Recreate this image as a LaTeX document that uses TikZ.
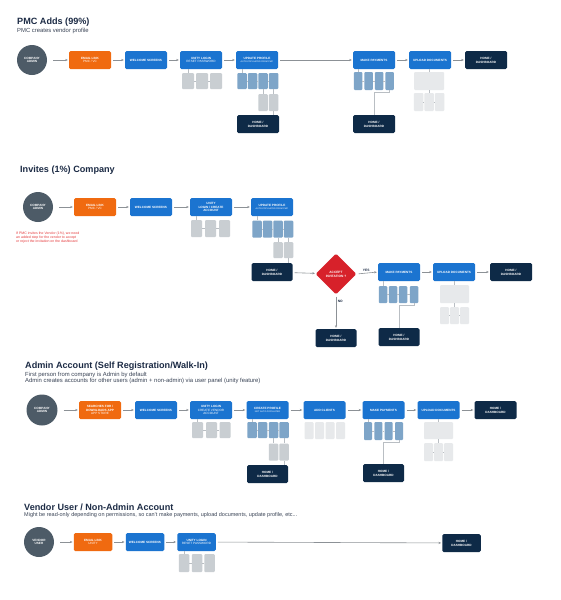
\documentclass[tikz,border=0pt]{standalone}
\usepackage{fontspec}
\setmainfont{Liberation Sans}
\usetikzlibrary{arrows.meta,shapes.geometric}
\definecolor{orng}{HTML}{F06A10}
\definecolor{blu}{HTML}{1B74D0}
\definecolor{navy}{HTML}{0E2A47}
\definecolor{slate}{HTML}{4D5B67}
\definecolor{lblu}{HTML}{7EA5C8}
\definecolor{gry}{HTML}{C9CED2}
\definecolor{lgry}{HTML}{E7E9EB}
\definecolor{rdd}{HTML}{D7212A}
\definecolor{ttl}{HTML}{1C2B45}
\definecolor{subt}{HTML}{3A4456}
\definecolor{conn}{HTML}{8C9196}
\definecolor{lnk}{HTML}{B9BEC3}
\definecolor{redtxt}{HTML}{E5393B}
\tikzset{
  box/.style={rounded corners=1.5pt, minimum width=42pt, minimum height=18pt, inner sep=0.5pt, align=center,
    font=\fontsize{3.1}{3.8}\selectfont\bfseries, text=white},
  sbox/.style={box, minimum width=38.5pt},
  orangebox/.style={box, fill=orng},
  bluebox/.style={box, fill=blu},
  navybox/.style={box, fill=navy},
  circ/.style={circle, fill=slate, minimum size=30pt, inner sep=0pt, align=center,
    font=\fontsize{3.1}{3.8}\selectfont\bfseries, text=white},
  subb/.style={rounded corners=1pt, minimum width=9.5pt, minimum height=16pt, inner sep=0pt},
  subblue/.style={subb, fill=lblu},
  subgray/.style={subb, fill=gry},
  sublgray/.style={subb, fill=lgry},
  arr/.style={-{Stealth[length=2.6pt,width=2.2pt]}, draw=conn, line width=0.6pt, shorten <=2pt, shorten >=1pt},
  carr/.style={arr, shorten <=6pt},
  link/.style={draw=lnk, line width=0.4pt},
  title/.style={anchor=west, inner sep=0pt, font=\fontsize{9.1}{11}\selectfont\bfseries, text=ttl},
  subtitle/.style={anchor=west, inner sep=0pt, font=\fontsize{5.9}{6.9}\selectfont, text=subt},
  lbl/.style={inner sep=0pt, font=\fontsize{3.3}{4}\selectfont\bfseries, text=ttl},
}
\newcommand{\sm}[1]{{\fontsize{2.2}{2.9}\selectfont\mdseries #1}}
\newcommand{\md}[1]{{\mdseries #1}}
\begin{document}
\begin{tikzpicture}[x=1pt,y=-1pt]
\useasboundingbox (0,0) rectangle (561,600);
\fill[white] (0,0) rectangle (561,600);

% ================= Section 1 =================
\node[title] (t1) at (17,22) {PMC Adds (99\%)};
\node[subtitle] (st1) at (17,30.5) {PMC creates vendor profile};

\node[circ] (a1) at (32,60) {COMPANY\\ADMIN};
\node[orangebox] (e1) at (90,60) {EMAIL LINK\\\md{PMC / VC}};
\node[bluebox] (w1) at (146,60) {WELCOME SCREENS};
\node[bluebox] (l1) at (201,60) {UNITY LOGIN\\\md{RESET PASSWORD}};
\node[bluebox] (u1) at (257,60) {UPDATE PROFILE\\\sm{AUTO-POPULATED FROM PMC}};
\node[bluebox] (p1) at (374,60) {MAKE PAYMENTS};
\node[bluebox] (d1) at (430,60) {UPLOAD DOCUMENTS};
\node[navybox] (h1) at (486,60) {HOME /\\DASHBOARD};
\draw[carr] (a1) -- (e1);
\draw[arr] (e1) -- (w1);
\draw[arr] (w1) -- (l1);
\draw[arr] (l1) -- (u1);
\draw[arr] (u1) -- (p1);
\draw[arr] (p1) -- (d1);
\draw[arr] (d1) -- (h1);

\foreach \x [count=\i] in {188,202,216} \node[subgray, minimum width=12pt] (s1l\i) at (\x,81) {};
\draw[link] (s1l1.north) -- (s1l1.north |- l1.south);
\foreach \i/\j in {1/2,2/3} \draw[link] (s1l\i) -- (s1l\j);

\foreach \x [count=\i] in {242,252.5,263,273.5} \node[subblue] (s1u\i) at (\x,81) {};
\foreach \x [count=\i from 3] in {263,273.5} \node[subgray, minimum height=17pt] (s1g\i) at (\x,102.5) {};
\node[navybox] (h1b) at (258,124) {HOME /\\DASHBOARD};
\draw[link] (s1u1.north) -- (s1u1.north |- u1.south);
\foreach \i/\j in {1/2,2/3,3/4} \draw[link] (s1u\i) -- (s1u\j);
\draw[link] (s1u3) -- (s1g3);
\draw[link] (s1u4) -- (s1g4);
\draw[link] (s1g4.south) -- (s1g4.south |- h1b.north);

\foreach \x [count=\i] in {358,368.5,379,389.5} \node[subblue, minimum width=8.5pt, minimum height=18pt] (s1p\i) at (\x,81) {};
\node[navybox] (h1c) at (374,124) {HOME /\\DASHBOARD};
\draw[link] (s1p1.north) -- (s1p1.north |- p1.south);
\foreach \i/\j in {1/2,2/3,3/4} \draw[link] (s1p\i) -- (s1p\j);
\draw[link] (s1p4.south) -- ++(0,2) -| (h1c.north);

\node[sublgray, minimum width=30pt, minimum height=18pt] (s1dbig) at (429,81) {};
\foreach \x [count=\i] in {418.5,429,439.5} \node[sublgray, minimum height=18pt] (s1d\i) at (\x,102) {};
\draw[link] (d1.south -| s1dbig.north) -- (s1dbig.north);
\draw[link] (s1dbig.south) -- (s1d2.north);
\foreach \i/\j in {1/2,2/3} \draw[link] (s1d\i) -- (s1d\j);

% ================= Section 2 =================
\node[title] (t2) at (20,170) {Invites (1\%) Company};

\node[circ] (a2) at (38,207) {COMPANY\\ADMIN};
\node[orangebox] (e2) at (95,207) {EMAIL LINK\\\md{PMC / VC}};
\node[bluebox] (w2) at (151,207) {WELCOME SCREENS};
\node[bluebox] (l2) at (211,207) {UNITY\\LOGIN / CREATE\\ACCOUNT};
\node[bluebox] (u2) at (272,207) {UPDATE PROFILE\\\sm{AUTO-POPULATED FROM PMC}};
\draw[carr] (a2) -- (e2);
\draw[arr] (e2) -- (w2);
\draw[arr] (w2) -- (l2);
\draw[arr] (l2) -- (u2);

\node[anchor=north west, inner sep=0pt, align=left, text=redtxt, font=\fontsize{3.5}{4.3}\selectfont] (note) at (16,231.5)
  {If PMC invites the Vendor (1\%), we need\\an added step for the vendor to accept\\or reject the invitation on the dashboard};

\foreach \x [count=\i] in {196.5,210.5,224.5} \node[subgray, minimum width=11pt, minimum height=17pt] (s2l\i) at (\x,228.5) {};
\draw[link] (s2l1.north) -- (s2l1.north |- l2.south);
\foreach \i/\j in {1/2,2/3} \draw[link] (s2l\i) -- (s2l\j);

\foreach \x [count=\i] in {257,267.5,278,288.5} \node[subblue, minimum height=17pt] (s2u\i) at (\x,229) {};
\foreach \x [count=\i from 3] in {278,288.5} \node[subgray] (s2g\i) at (\x,250) {};
\node[navybox, minimum width=41pt] (h2a) at (272,272) {HOME /\\DASHBOARD};
\draw[link] (s2u1.north) -- (s2u1.north |- u2.south);
\foreach \i/\j in {1/2,2/3,3/4} \draw[link] (s2u\i) -- (s2u\j);
\draw[link] (s2u3) -- (s2g3);
\draw[link] (s2u4) -- (s2g4);
\draw[link] (s2g4.south) -- (s2g4.south |- h2a.north);

\node[diamond, fill=rdd, minimum width=41pt, minimum height=41pt, inner sep=0pt, align=center,
  rounded corners=1.5pt, text=white, font=\fontsize{3.2}{3.9}\selectfont\bfseries] (q2) at (336,274) {ACCEPT\\INVITATION ?};
\draw[arr] (h2a) -- (q2);
\node[bluebox] (p2) at (399,272) {MAKE PAYMENTS};
\node[bluebox] (d2) at (454,272) {UPLOAD DOCUMENTS};
\node[navybox] (h2b) at (511,272) {HOME /\\DASHBOARD};
\node[navybox, minimum width=41pt] (h2n) at (336,338) {HOME /\\DASHBOARD};
\draw[arr] (q2.east) -- (p2.west) node[lbl, pos=0.45, above=1.5pt] (yes) {YES};
\draw[arr] (p2) -- (d2);
\draw[arr] (d2) -- (h2b);
\draw[arr] (q2.south) -- (h2n.north) node[lbl, pos=0.2, right=1.5pt] (no) {NO};

\foreach \x [count=\i] in {383,393,403,414} \node[subblue, minimum width=8.5pt, minimum height=17pt] (s2p\i) at (\x,294.5) {};
\node[navybox, minimum width=41pt] (h2c) at (399,337) {HOME /\\DASHBOARD};
\draw[link] (s2p1.north) -- (s2p1.north |- p2.south);
\foreach \i/\j in {1/2,2/3,3/4} \draw[link] (s2p\i) -- (s2p\j);
\draw[link] (s2p4.south) -- ++(0,2) -| (h2c.north);

\node[sublgray, minimum width=29pt, minimum height=18pt] (s2dbig) at (454.5,294) {};
\foreach \x [count=\i] in {444.5,454.5,464.5} \node[sublgray, minimum width=9pt, minimum height=17pt] (s2d\i) at (\x,315.5) {};
\draw[link] (d2.south -| s2dbig.north) -- (s2dbig.north);
\draw[link] (s2dbig.south) -- (s2d2.north);
\foreach \i/\j in {1/2,2/3} \draw[link] (s2d\i) -- (s2d\j);

% ================= Section 3 =================
\node[title] (t3) at (25,366) {Admin Account (Self Registration/Walk-In)};
\node[subtitle] (st3a) at (25,374.5) {First person from company is Admin by default};
\node[subtitle] (st3b) at (25,381) {Admin creates accounts for other users (admin + non-admin) via user panel (unity feature)};

\node[circ, minimum size=31pt] (a3) at (42,410) {COMPANY\\ADMIN};
\node[orangebox] (e3) at (100,410) {SEARCHES FOR /\\DOWNLOADS APP\\\md{APP STORE}};
\node[bluebox] (w3) at (156,410) {WELCOME SCREENS};
\node[bluebox] (l3) at (211,410) {UNITY LOGIN\\\md{CREATE VENDOR}\\\md{ACCOUNT}};
\node[bluebox] (c3) at (267.5,410) {CREATE PROFILE\\\sm{NOT AUTO-POPULATED}};
\node[bluebox] (k3) at (324.5,410) {ADD CLIENTS};
\node[bluebox] (p3) at (383.5,410) {MAKE PAYMENTS};
\node[bluebox] (d3) at (438.5,410) {UPLOAD DOCUMENTS};
\node[navybox] (h3) at (495.5,410) {HOME /\\DASHBOARD};
\draw[carr] (a3) -- (e3);
\draw[arr] (e3) -- (w3);
\draw[arr] (w3) -- (l3);
\draw[arr] (l3) -- (c3);
\draw[arr] (c3) -- (k3);
\draw[arr] (k3) -- (p3);
\draw[arr] (p3) -- (d3);
\draw[arr] (d3) -- (h3);

\foreach \x [count=\i] in {197.5,211.5,225} \node[subgray, minimum width=11pt] (s3l\i) at (\x,430) {};
\draw[link] (s3l1.north) -- (s3l1.north |- l3.south);
\foreach \i/\j in {1/2,2/3} \draw[link] (s3l\i) -- (s3l\j);

\foreach \x [count=\i] in {252,262.5,273.5,284} \node[subblue] (s3c\i) at (\x,430) {};
\foreach \x [count=\i from 3] in {273.5,284} \node[subgray, minimum height=17pt] (s3g\i) at (\x,452) {};
\node[navybox, minimum width=41pt] (h3a) at (267.5,474) {HOME /\\DASHBOARD};
\draw[link] (s3c1.north) -- (s3c1.north |- c3.south);
\foreach \i/\j in {1/2,2/3,3/4} \draw[link] (s3c\i) -- (s3c\j);
\draw[link] (s3c3) -- (s3g3);
\draw[link] (s3c4) -- (s3g4);
\draw[link] (s3g4.south) -- (s3g4.south |- h3a.north);

\foreach \x [count=\i] in {309,319.5,330,340.5} \node[sublgray, minimum width=9pt, minimum height=17pt] (s3k\i) at (\x,430.5) {};

\foreach \x [count=\i] in {368,378.3,388.6,399} \node[subblue, minimum width=8pt, minimum height=18pt] (s3p\i) at (\x,431) {};
\node[navybox, minimum width=41pt] (h3b) at (383.5,473) {HOME /\\DASHBOARD};
\draw[link] (s3p1.north) -- (s3p1.north |- p3.south);
\foreach \i/\j in {1/2,2/3,3/4} \draw[link] (s3p\i) -- (s3p\j);
\draw[link] (s3p4.south) -- ++(0,2) -| (h3b.north);

\node[sublgray, minimum width=29pt, minimum height=17pt] (s3dbig) at (438.5,430.5) {};
\foreach \x [count=\i] in {428.5,438.5,448.5} \node[sublgray, minimum width=9pt, minimum height=18pt] (s3d\i) at (\x,452) {};
\draw[link] (d3.south -| s3dbig.north) -- (s3dbig.north);
\draw[link] (s3dbig.south) -- (s3d2.north);
\foreach \i/\j in {1/2,2/3} \draw[link] (s3d\i) -- (s3d\j);

% ================= Section 4 =================
\node[title] (t4) at (24,507) {Vendor User / Non-Admin Account};
\node[subtitle, font=\fontsize{5.5}{6.5}\selectfont] (st4) at (24,515.5) {Might be read-only depending on permissions, so can't make payments, upload documents, update profile, etc...};

\node[circ] (a4) at (39,542) {VENDOR\\USER};
\node[orangebox, sbox] (e4) at (93,542) {EMAIL LINK\\\md{UNITY}};
\node[bluebox, sbox] (w4) at (145,542) {WELCOME SCREENS};
\node[bluebox, sbox] (l4) at (196.5,542) {UNITY LOGIN\\\md{RESET PASSWORD}};
\node[navybox, sbox] (h4) at (461.5,543) {HOME /\\DASHBOARD};
\draw[carr] (a4) -- (e4);
\draw[arr] (e4) -- (w4);
\draw[arr] (w4) -- (l4);
\draw[arr] (l4) -- (h4);

\foreach \x [count=\i] in {184,197,209.5} \node[subgray, minimum width=10.5pt, minimum height=18pt] (s4l\i) at (\x,563) {};
\draw[link] (s4l1.north) -- (s4l1.north |- l4.south);
\foreach \i/\j in {1/2,2/3} \draw[link] (s4l\i) -- (s4l\j);

\end{tikzpicture}
\end{document}
